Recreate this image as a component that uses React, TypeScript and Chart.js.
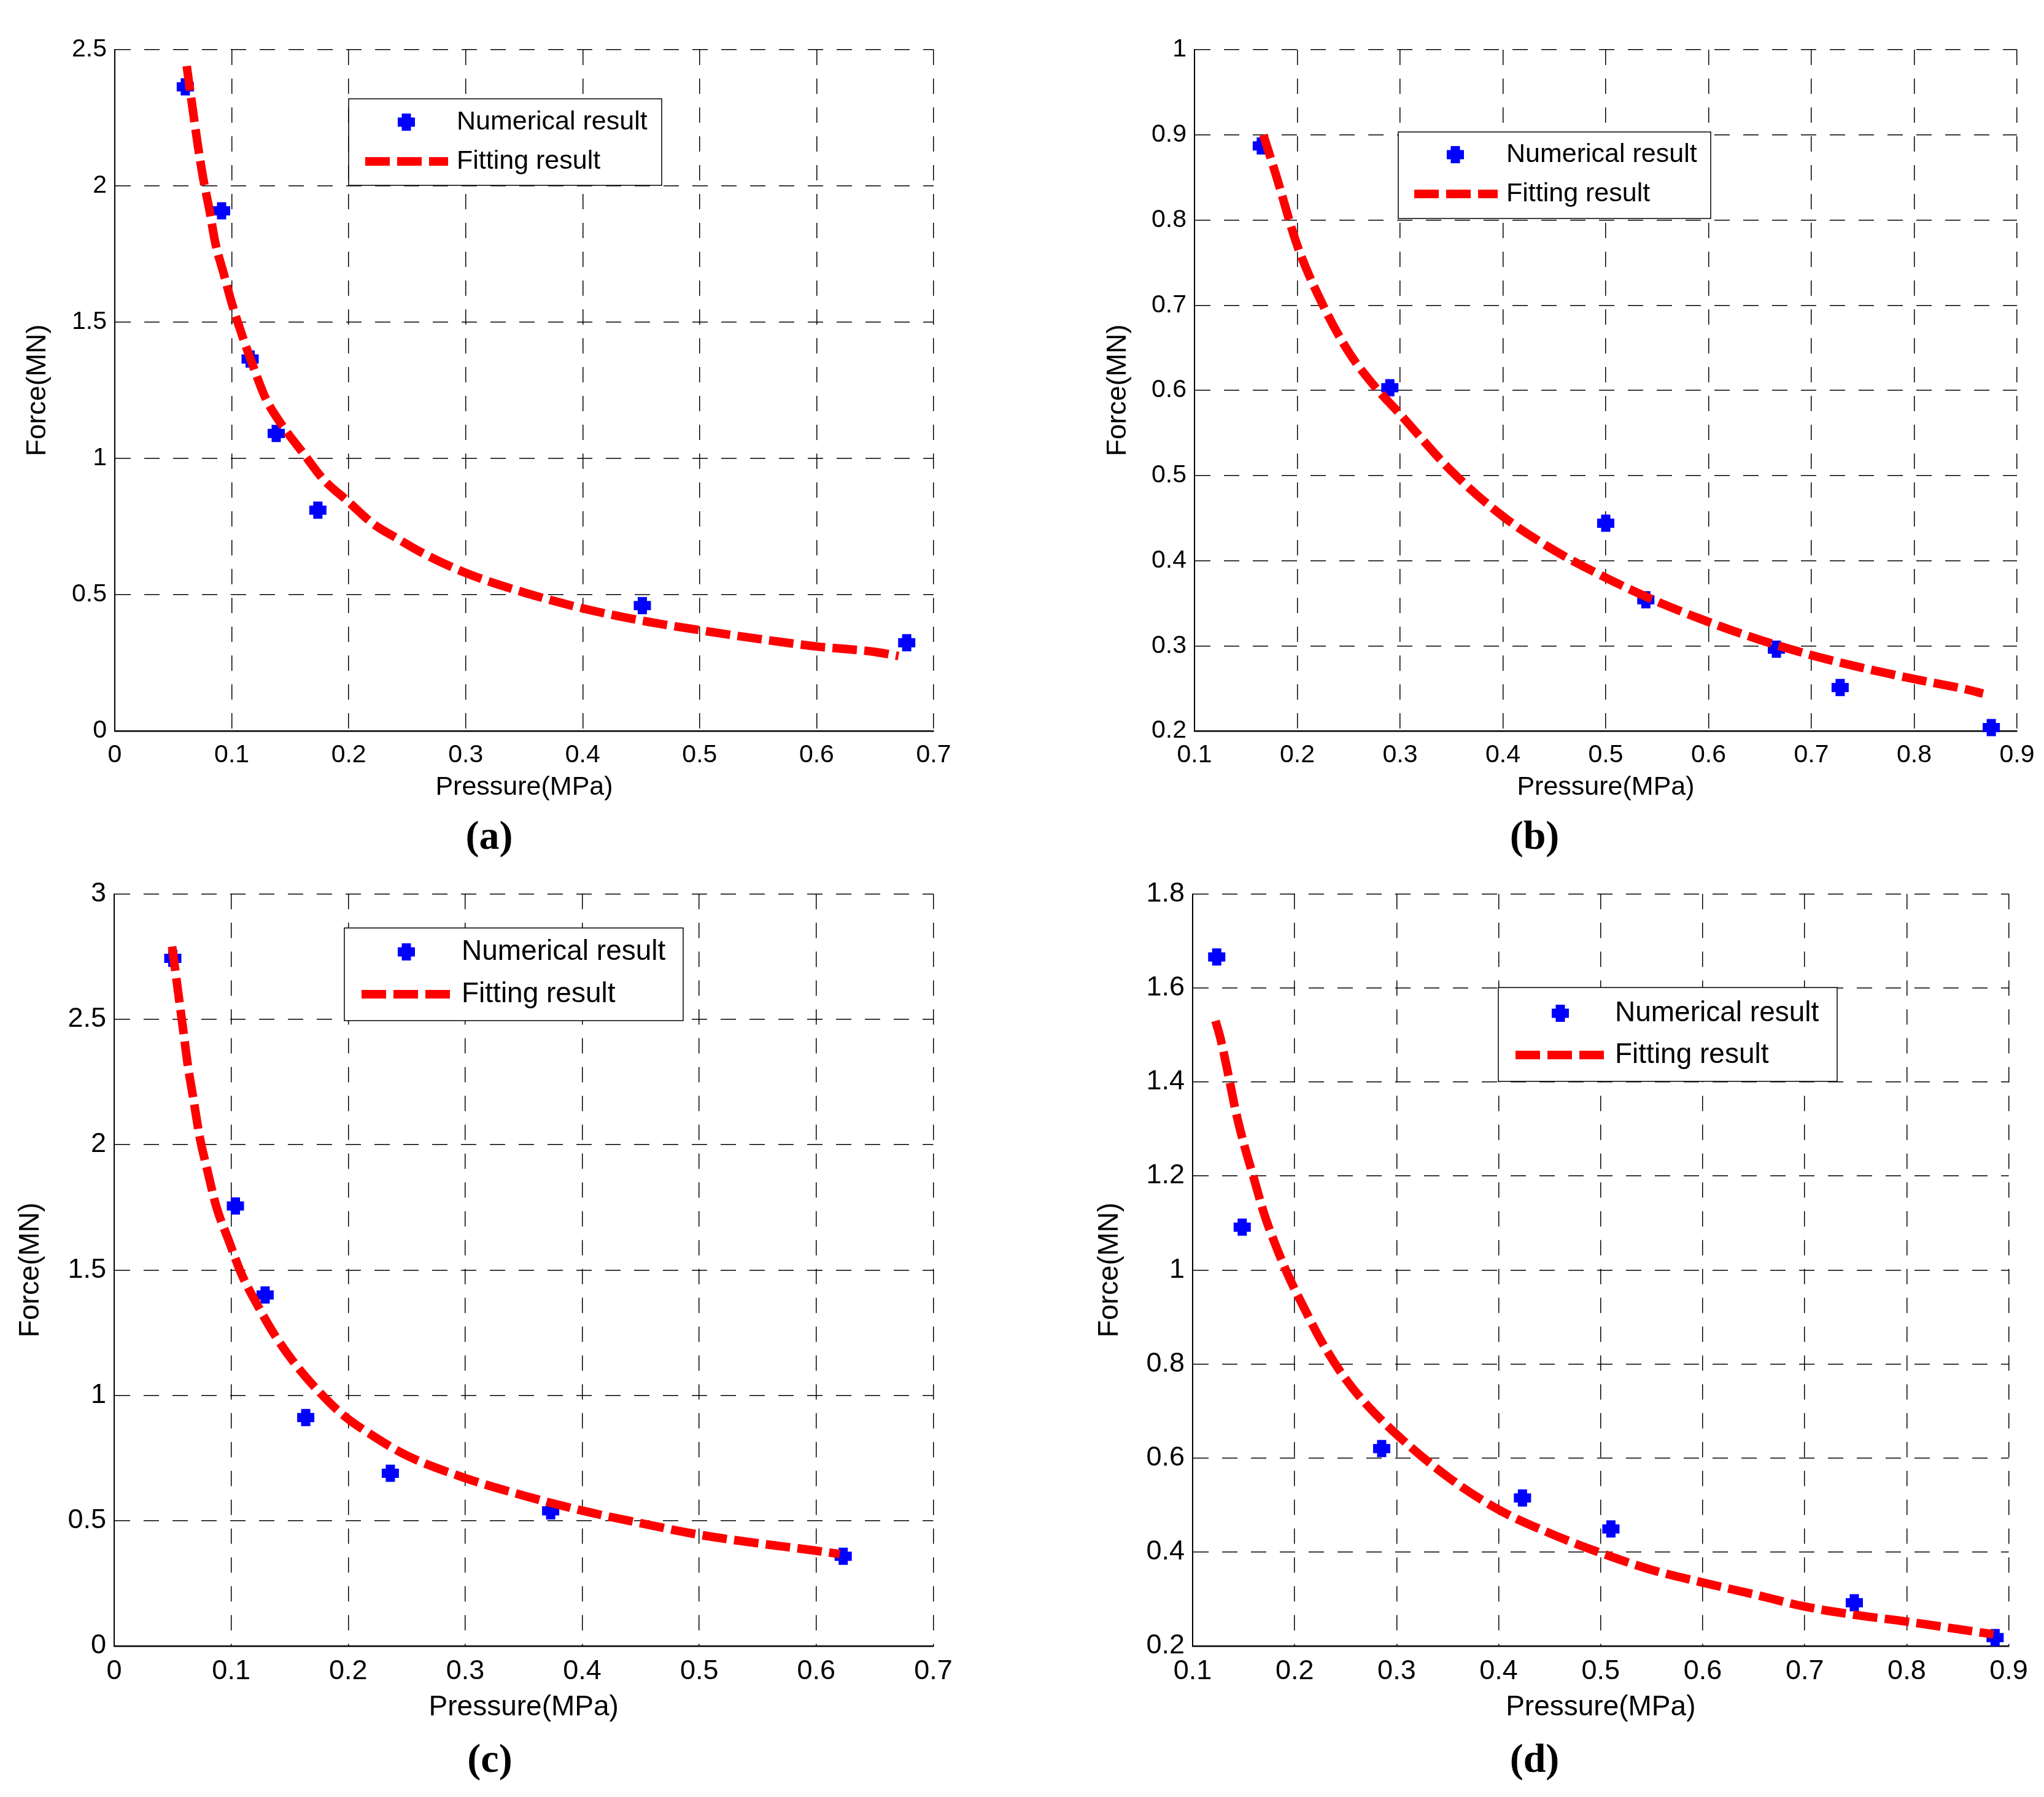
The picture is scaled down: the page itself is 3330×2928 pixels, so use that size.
import React, { useEffect, useRef } from 'react';
import { Chart, registerables } from 'chart.js';

Chart.register(...registerables);

// ---------- data ----------
const pressureA = [0.0603, 0.0913, 0.1157, 0.138, 0.1736, 0.451, 0.677];
const forceA = [2.364, 1.909, 1.365, 1.092, 0.81, 0.46, 0.324];
const fitPressureA = [0.0615, 0.067, 0.071, 0.0755, 0.081, 0.086, 0.093, 0.1, 0.109, 0.119, 0.129, 0.145, 0.161, 0.178, 0.2, 0.22, 0.244, 0.26, 0.3, 0.35, 0.4, 0.45, 0.5, 0.55, 0.6, 0.65, 0.67];
const fitForceA = [2.44, 2.27, 2.15, 2.03, 1.91, 1.79, 1.68, 1.57, 1.45, 1.33, 1.22, 1.11, 1.02, 0.925, 0.84, 0.763, 0.7, 0.66, 0.58, 0.508, 0.45, 0.405, 0.37, 0.338, 0.31, 0.29, 0.275];
const xTicksA = [0, 0.1, 0.2, 0.3, 0.4, 0.5, 0.6, 0.7];
const yTicksA = [0, 0.5, 1, 1.5, 2, 2.5];

const pressureB = [0.165, 0.29, 0.5, 0.539, 0.666, 0.728, 0.875];
const forceB = [0.887, 0.603, 0.444, 0.354, 0.296, 0.251, 0.204];
const fitPressureB = [0.167, 0.18, 0.2, 0.225, 0.25, 0.275, 0.3, 0.35, 0.4, 0.45, 0.5, 0.55, 0.6, 0.65, 0.7, 0.75, 0.8, 0.85, 0.867];
const fitForceB = [0.9, 0.85, 0.77, 0.7, 0.645, 0.605, 0.572, 0.505, 0.452, 0.412, 0.38, 0.352, 0.328, 0.307, 0.289, 0.274, 0.261, 0.249, 0.244];
const xTicksB = [0.1, 0.2, 0.3, 0.4, 0.5, 0.6, 0.7, 0.8, 0.9];
const yTicksB = [0.2, 0.3, 0.4, 0.5, 0.6, 0.7, 0.8, 0.9, 1];

const pressureC = [0.0501, 0.1036, 0.129, 0.1637, 0.236, 0.373, 0.623];
const forceC = [2.743, 1.755, 1.4, 0.911, 0.689, 0.539, 0.358];
const fitPressureC = [0.0495, 0.055, 0.059, 0.063, 0.068, 0.073, 0.08, 0.087, 0.098, 0.109, 0.123, 0.137, 0.154, 0.172, 0.195, 0.223, 0.25, 0.3, 0.35, 0.4, 0.45, 0.5, 0.55, 0.6, 0.62];
const fitForceC = [2.79, 2.597, 2.456, 2.315, 2.174, 2.032, 1.891, 1.757, 1.616, 1.482, 1.355, 1.242, 1.129, 1.03, 0.924, 0.833, 0.76, 0.67, 0.6, 0.54, 0.49, 0.444, 0.41, 0.38, 0.367];
const xTicksC = [0, 0.1, 0.2, 0.3, 0.4, 0.5, 0.6, 0.7];
const yTicksC = [0, 0.5, 1, 1.5, 2, 2.5, 3];

const pressureD = [0.1236, 0.1486, 0.2853, 0.4233, 0.51, 0.7486, 0.8866];
const forceD = [1.666, 1.091, 0.62, 0.515, 0.449, 0.292, 0.218];
const fitPressureD = [0.1224, 0.127, 0.135, 0.142, 0.15, 0.16, 0.17, 0.18, 0.195, 0.21, 0.225, 0.245, 0.265, 0.3, 0.35, 0.4, 0.45, 0.5, 0.55, 0.6, 0.65, 0.7, 0.75, 0.8, 0.85, 0.885];
const fitForceD = [1.53, 1.495, 1.415, 1.34, 1.27, 1.195, 1.12, 1.06, 0.982, 0.916, 0.853, 0.783, 0.727, 0.65, 0.56, 0.49, 0.44, 0.398, 0.362, 0.335, 0.31, 0.284, 0.266, 0.252, 0.236, 0.225];
const xTicksD = [0.1, 0.2, 0.3, 0.4, 0.5, 0.6, 0.7, 0.8, 0.9];
const yTicksD = [0.2, 0.4, 0.6, 0.8, 1, 1.2, 1.4, 1.6, 1.8];

const legendLabels = ['Numerical result', 'Fitting result'];
const xAxisTitle = 'Pressure(MPa)';
const yAxisTitle = 'Force(MN)';
const panelLabels = ['(a)', '(b)', '(c)', '(d)'];

// ---------- layout ----------
const PAGE_W = 3330;
const PAGE_H = 2928;
const SANS = '"Liberation Sans", Arial, Helvetica, sans-serif';

type Panel = {
  px: number[]; py: number[]; fx: number[]; fy: number[];
  xt: number[]; yt: number[];
  canvas: { l: number; t: number; w: number; h: number };
  plot: { l: number; r: number; t: number; b: number };
  yTitleX: number; xTitleY: number;
  tickFont: number; xTitleFont: number; yTitleFont: number;
  legend: { x: number; y: number; w: number; h: number; font: number; mdx: number; r1: number; r2: number; l1: number; l2: number; tdx: number };
  label: string; labelX: number; labelY: number;
};

const panels: Panel[] = [
  {
    px: pressureA, py: forceA, fx: fitPressureA, fy: fitForceA, xt: xTicksA, yt: yTicksA,
    canvas: { l: 0, t: 0, w: 1665, h: 1400 },
    plot: { l: 187, r: 1521, t: 81, b: 1191 },
    yTitleX: 62, xTitleY: 1283, tickFont: 41, xTitleFont: 43, yTitleFont: 45,
    legend: { x: 568, y: 161, w: 510, h: 141, font: 43, mdx: 94, r1: 38, r2: 102, l1: 27, l2: 162, tdx: 176 },
    label: panelLabels[0], labelX: 797, labelY: 1367,
  },
  {
    px: pressureB, py: forceB, fx: fitPressureB, fy: fitForceB, xt: xTicksB, yt: yTicksB,
    canvas: { l: 1665, t: 0, w: 1665, h: 1400 },
    plot: { l: 1946, r: 3286, t: 81, b: 1191 },
    yTitleX: 1822, xTitleY: 1283, tickFont: 41, xTitleFont: 43, yTitleFont: 45,
    legend: { x: 2278, y: 215, w: 509, h: 141, font: 43, mdx: 93, r1: 37, r2: 101, l1: 26, l2: 162, tdx: 176 },
    label: panelLabels[1], labelX: 2500, labelY: 1367,
  },
  {
    px: pressureC, py: forceC, fx: fitPressureC, fy: fitForceC, xt: xTicksC, yt: yTicksC,
    canvas: { l: 0, t: 1400, w: 1665, h: 1528 },
    plot: { l: 186, r: 1520.5, t: 1456.5, b: 2682 },
    yTitleX: 50, xTitleY: 2782, tickFont: 45, xTitleFont: 46, yTitleFont: 46,
    legend: { x: 561, y: 1512, w: 552, h: 151, font: 46, mdx: 101, r1: 39, r2: 108, l1: 28, l2: 175, tdx: 191 },
    label: panelLabels[2], labelX: 798, labelY: 2871,
  },
  {
    px: pressureD, py: forceD, fx: fitPressureD, fy: fitForceD, xt: xTicksD, yt: yTicksD,
    canvas: { l: 1665, t: 1400, w: 1665, h: 1528 },
    plot: { l: 1943, r: 3272.6, t: 1456.5, b: 2682 },
    yTitleX: 1808, xTitleY: 2782, tickFont: 45, xTitleFont: 46, yTitleFont: 46,
    legend: { x: 2441, y: 1609, w: 552, h: 153, font: 46, mdx: 101, r1: 42, r2: 110, l1: 28, l2: 172, tdx: 190 },
    label: panelLabels[3], labelX: 2500, labelY: 2871,
  },
];

const BLUE = '#0000ff';
const RED = '#ff0000';
const DASH = [40, 12];

const fmt = (v: number) => String(Number(Number(v).toFixed(2)));

function PanelChart({ p }: { p: Panel }) {
  const ref = useRef<HTMLCanvasElement | null>(null);

  useEffect(() => {
    const canvas = ref.current;
    if (!canvas) return;
    const c = p.canvas;
    const yTitleLH = p.yTitleFont * 1.2;
    const xTitleLH = p.xTitleFont * 1.2;
    const yBoxLeft = p.yTitleX - yTitleLH / 2;
    const xBoxBottom = p.xTitleY + xTitleLH / 2;
    const padLeft = yBoxLeft - c.l;
    const padTop = p.plot.t - c.t;
    const padRight = c.l + c.w - p.plot.r;
    const padBottom = c.t + c.h - xBoxBottom;
    const yAxisWidth = p.plot.l - yBoxLeft;
    const xAxisHeight = xBoxBottom - p.plot.b;

    const legendPlugin = {
      id: 'boxLegend',
      afterDraw(chart: any) {
        const ctx = chart.ctx as CanvasRenderingContext2D;
        const L = p.legend;
        const x = L.x - c.l;
        const y = L.y - c.t;
        ctx.save();
        ctx.fillStyle = '#ffffff';
        ctx.fillRect(x, y, L.w, L.h);
        ctx.strokeStyle = '#000000';
        ctx.lineWidth = 1.5;
        ctx.setLineDash([]);
        ctx.strokeRect(x, y, L.w, L.h);
        const mx = x + L.mdx;
        const my = y + L.r1;
        ctx.strokeStyle = BLUE;
        ctx.lineWidth = 15;
        ctx.lineCap = 'butt';
        ctx.beginPath();
        ctx.moveTo(mx - 14, my);
        ctx.lineTo(mx + 14, my);
        ctx.moveTo(mx, my - 14);
        ctx.lineTo(mx, my + 14);
        ctx.stroke();
        ctx.strokeStyle = RED;
        ctx.lineWidth = 14;
        ctx.setLineDash(DASH);
        ctx.beginPath();
        ctx.moveTo(x + L.l1, y + L.r2);
        ctx.lineTo(x + L.l2, y + L.r2);
        ctx.stroke();
        ctx.setLineDash([]);
        ctx.fillStyle = '#000000';
        ctx.font = `${L.font}px ${SANS}`;
        ctx.textAlign = 'left';
        ctx.textBaseline = 'middle';
        ctx.fillText(legendLabels[0], x + L.tdx, y + L.r1);
        ctx.fillText(legendLabels[1], x + L.tdx, y + L.r2);
        ctx.restore();
      },
    };

    const chart = new Chart(canvas, {
      type: 'scatter',
      data: {
        datasets: [
          {
            label: legendLabels[1],
            data: p.fx.map((v, i) => ({ x: v, y: p.fy[i] })),
            showLine: true,
            borderColor: RED,
            backgroundColor: RED,
            borderWidth: 14,
            borderDash: DASH,
            borderCapStyle: 'butt',
            pointRadius: 0,
            pointHoverRadius: 0,
            cubicInterpolationMode: 'monotone',
          } as any,
          {
            label: legendLabels[0],
            data: p.px.map((v, i) => ({ x: v, y: p.py[i] })),
            showLine: false,
            pointStyle: 'cross',
            pointRadius: 14,
            pointHoverRadius: 14,
            pointBorderWidth: 15,
            pointBorderColor: BLUE,
            pointBackgroundColor: BLUE,
            clip: false,
          } as any,
        ],
      },
      options: {
        animation: false,
        responsive: false,
        devicePixelRatio: 1,
        events: [],
        layout: { padding: { left: padLeft, top: padTop, right: padRight, bottom: padBottom } },
        plugins: { legend: { display: false }, tooltip: { enabled: false } },
        scales: {
          x: {
            type: 'linear',
            min: p.xt[0],
            max: p.xt[p.xt.length - 1],
            afterBuildTicks: (s: any) => { s.ticks = p.xt.map((v) => ({ value: v })); },
            afterFit: (s: any) => { s.height = xAxisHeight; },
            grid: { color: '#000000', lineWidth: 1.5, drawTicks: false },
            border: { display: true, color: '#000000', width: 2.5, dash: [25, 22] },
            ticks: {
              color: '#000000',
              padding: 15,
              autoSkip: false,
              maxRotation: 0,
              font: { family: SANS, size: p.tickFont },
              callback: (v: any) => fmt(v),
            },
            title: {
              display: true,
              text: xAxisTitle,
              color: '#000000',
              padding: 0,
              font: { family: SANS, size: p.xTitleFont },
            },
          },
          y: {
            type: 'linear',
            min: p.yt[0],
            max: p.yt[p.yt.length - 1],
            afterBuildTicks: (s: any) => { s.ticks = p.yt.map((v) => ({ value: v })); },
            afterFit: (s: any) => { s.width = yAxisWidth; },
            grid: { color: '#000000', lineWidth: 1.5, drawTicks: false },
            border: { display: true, color: '#000000', width: 2, dash: [25, 22] },
            ticks: {
              color: '#000000',
              padding: 13,
              autoSkip: false,
              font: { family: SANS, size: p.tickFont },
              callback: (v: any) => fmt(v),
            },
            title: {
              display: true,
              text: yAxisTitle,
              color: '#000000',
              padding: 0,
              font: { family: SANS, size: p.yTitleFont },
            },
          },
        },
      } as any,
      plugins: [legendPlugin as any],
    });

    return () => chart.destroy();
  }, [p]);

  return (
    <canvas
      ref={ref}
      width={p.canvas.w}
      height={p.canvas.h}
      style={{ position: 'absolute', left: p.canvas.l, top: p.canvas.t, width: p.canvas.w, height: p.canvas.h }}
    />
  );
}

export default function App() {
  useEffect(() => {
    document.body.style.margin = '0';
  }, []);
  return (
    <div style={{ position: 'absolute', left: 0, top: 0, width: PAGE_W, height: PAGE_H, background: '#ffffff', overflow: 'hidden' }}>
      {panels.map((p, i) => (
        <PanelChart key={i} p={p} />
      ))}
      {panels.map((p, i) => (
        <div
          key={'l' + i}
          style={{
            position: 'absolute',
            left: p.labelX - 200,
            top: p.labelY - 46,
            width: 400,
            height: 80,
            lineHeight: '80px',
            textAlign: 'center',
            fontFamily: '"Liberation Serif", "Times New Roman", serif',
            fontWeight: 'bold',
            fontSize: 66,
            color: '#000000',
          }}
        >
          {p.label}
        </div>
      ))}
    </div>
  );
}
